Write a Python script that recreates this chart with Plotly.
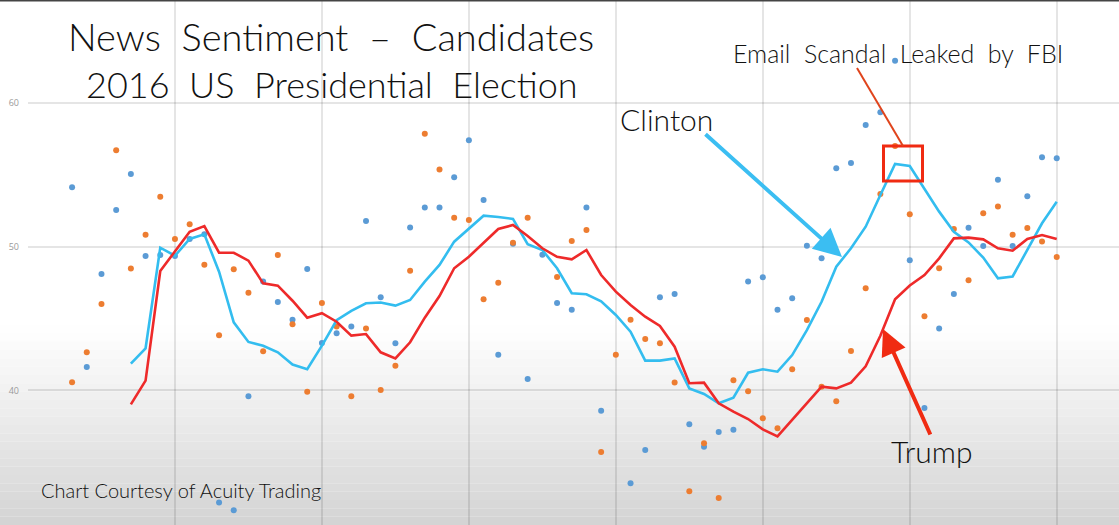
import plotly.graph_objects as go

# ---------------- data ----------------
days = list(range(3, 71))  # observation index

clinton_scores = [54.13, 41.63, 48.10, 52.55, 55.06, 49.35, 49.42, 49.35, 50.54, 50.86,
                  32.20, 31.66, 39.60, 47.58, 46.16, 44.92, 48.44, 43.29, 43.97, 44.45,
                  51.79, 46.48, 43.28, 51.33, 52.72, 52.72, 54.83, 57.40, 53.25, 42.48,
                  50.20, 40.79, 49.44, 46.08, 45.62, 52.72, 38.59, None, 33.53, 35.86,
                  46.48, 46.71, 37.65, 36.08, 37.10, 37.27, 47.57, 47.87, 45.62, 46.41,
                  50.07, 49.19, 55.46, 55.83, 58.47, 59.35, 62.94, 49.05, 38.78, 44.30,
                  46.71, 51.32, 50.05, 54.66, 50.05, 53.51, 56.22, 56.15]

trump_scores = [40.56, 42.65, 46.01, 56.71, 48.49, 50.84, 53.48, 50.54, 51.56, 48.74,
                43.83, 48.43, 46.79, 42.73, 49.42, 44.61, 39.90, 46.08, 44.45, 39.60,
                44.30, 40.02, 41.72, 48.33, 57.86, 55.38, 52.02, 51.86, 46.34, 47.49,
                50.28, 52.02, None, 47.90, 50.40, 51.16, 35.71, 42.48, 44.91, 43.58,
                43.28, 40.55, 32.98, 36.32, 32.51, 40.70, 39.94, 38.06, 37.36, 41.47,
                44.90, 40.26, 39.24, 42.74, 47.10, 53.67, 57.01, 52.25, 45.16, 48.50,
                51.23, 47.66, 52.32, 52.79, 50.84, 51.30, 50.37, 49.28]

avg_days = list(range(7, 71))

clinton_avg = [41.86, 42.93, 49.93, 49.37, 50.54, 50.86, 48.26, 44.74, 43.37, 43.10,
               42.65, 41.80, 41.48, 43.12, 44.88, 45.54, 46.06, 46.12, 45.90, 46.29,
               47.57, 48.73, 50.35, 51.23, 52.16, 52.07, 51.93, 50.17, 49.77, 48.50,
               46.76, 46.69, 46.20, 45.25, 44.09, 42.07, 42.07, 42.23, 40.14, 39.75,
               39.10, 39.49, 41.23, 41.47, 41.30, 42.46, 44.20, 46.17, 48.61, 49.89,
               51.39, 53.60, 55.76, 55.62, 54.06, 52.44, 51.04, 50.30, 49.24, 47.80,
               47.93, 49.77, 51.63, 53.13]

trump_avg = [39.03, 40.68, 48.31, 49.65, 51.04, 51.44, 49.58, 49.58, 49.03, 47.45,
             47.29, 46.24, 45.06, 45.37, 44.78, 43.81, 43.92, 42.65, 42.23, 43.35,
             45.06, 46.57, 48.50, 49.30, 50.23, 51.23, 51.51, 50.74, 49.89, 49.30,
             49.12, 49.77, 48.03, 46.87, 45.94, 45.13, 44.48, 43.04, 40.50, 40.54,
             39.10, 38.52, 38.01, 37.29, 36.80, 37.96, 39.15, 40.26, 40.14, 40.54,
             41.68, 43.80, 46.34, 47.30, 48.03, 49.19, 50.58, 50.63, 50.51, 49.89,
             49.72, 50.54, 50.81, 50.54]

y_ticks = [40, 50, 60]
x_grid = [0, 10, 20, 30, 40, 50, 60, 70]

# ---------------- layout helpers ----------------
W, H = 1119, 525
ML = 28
X_PER_PX = 1 / 14.696
Y0_PX, Y_PER_PX = 246.7, 1 / 14.37  # pixel row of value 50


def px2x(px):
    return (px - ML) * X_PER_PX


def px2y(py):
    return 50 + (Y0_PX - py) * Y_PER_PX


def wide(s, n):
    """widen word gaps the way the original lettering does"""
    return s.replace(" ", "\u00a0" * n + " ")


FONT = "Lato, 'Open Sans', sans-serif"

fig = go.Figure()

fig.add_trace(go.Scatter(x=days, y=clinton_scores, mode="markers", name="Clinton daily",
                         marker=dict(color="#5B9BD5", size=6), showlegend=False))
fig.add_trace(go.Scatter(x=days, y=trump_scores, mode="markers", name="Trump daily",
                         marker=dict(color="#ED7D31", size=6), showlegend=False))
fig.add_trace(go.Scatter(x=avg_days, y=clinton_avg, mode="lines", name="Clinton",
                         line=dict(color="#33BDEF", width=2.6), showlegend=False))
fig.add_trace(go.Scatter(x=avg_days, y=trump_avg, mode="lines", name="Trump",
                         line=dict(color="#EE2A2A", width=2.6), showlegend=False))

shapes = []
# background gradient (bottom vignette)
n = 24
top_px, bot_px = 325, 525
for i in range(n):
    a = top_px + (bot_px - top_px) * i / n
    b = top_px + (bot_px - top_px) * (i + 1) / n
    t = (i + 0.5) / n
    g = int(round(255 - 44 * t ** 1.05))
    shapes.append(dict(type="rect", xref="paper", yref="paper", layer="below",
                       x0=-0.03, x1=1.0, y0=1 - b / H, y1=1 - a / H,
                       fillcolor=f"rgb({g},{g},{g})", line=dict(width=0)))
# top dark border
shapes.append(dict(type="line", xref="paper", yref="paper", x0=-0.03, x1=1, y0=0.999, y1=0.999,
                   line=dict(color="#444444", width=2)))
# red box around the peak
shapes.append(dict(type="rect", xref="x", yref="y",
                   x0=px2x(883.5), x1=px2x(922.5), y0=px2y(181), y1=px2y(146),
                   line=dict(color="#F02B12", width=3)))
# line from the email label
shapes.append(dict(type="line", xref="x", yref="y",
                   x0=px2x(857), y0=px2y(68), x1=px2x(903), y1=px2y(146),
                   line=dict(color="#E0441C", width=2)))

TXT = "#111111"
annotations = [
    dict(text=wide("News Sentiment – Candidates", 1), x=px2x(331), y=px2y(60.5),
         yanchor="bottom", showarrow=False, borderpad=0,
         font=dict(family=FONT, size=38, color=TXT, weight=300)),
    dict(text=wide("2016 US Presidential Election", 1), x=px2x(332), y=px2y(60.5),
         yanchor="top", showarrow=False, borderpad=0,
         font=dict(family=FONT, size=36, color=TXT, weight=300)),
    dict(text=wide("Email Scandal Leaked by FBI", 1), x=px2x(898), y=px2y(53), showarrow=False,
         font=dict(family=FONT, size=25, color=TXT, weight=300)),
    dict(text="Clinton", x=px2x(666), y=px2y(118.5), showarrow=False,
         font=dict(family=FONT, size=30, color=TXT, weight=300)),
    dict(text="Trump", x=px2x(932), y=px2y(451), showarrow=False,
         font=dict(family=FONT, size=30, color=TXT, weight=300)),
    dict(text="Chart Courtesy of Acuity Trading", x=px2x(181), y=px2y(490), showarrow=False,
         font=dict(family=FONT, size=20, color=TXT, weight=300)),
    # arrows
    dict(text="", x=px2x(842), y=px2y(257), ax=px2x(704), ay=px2y(133),
         xref="x", yref="y", axref="x", ayref="y", showarrow=True,
         arrowhead=2, arrowwidth=4, arrowsize=1.4, arrowcolor="#3BBEF2"),
    dict(text="", x=px2x(883), y=px2y(329), ax=px2x(931), ay=px2y(436),
         xref="x", yref="y", axref="x", ayref="y", showarrow=True,
         arrowhead=2, arrowwidth=4, arrowsize=1.3, arrowcolor="#F02B12"),
]

fig.update_layout(
    width=W, height=H,
    margin=dict(l=ML, r=0, t=0, b=0, pad=0),
    paper_bgcolor="white", plot_bgcolor="rgba(0,0,0,0)",
    shapes=shapes, annotations=annotations,
    xaxis=dict(range=[px2x(ML), px2x(W)], tickvals=x_grid, showticklabels=False,
               showgrid=True, gridcolor="rgba(0,0,0,0.10)", gridwidth=2, zeroline=False,
               showline=False, ticks=""),
    yaxis=dict(range=[px2y(H), px2y(0)], tickvals=y_ticks, showgrid=True,
               gridcolor="rgba(0,0,0,0.10)", gridwidth=2, zeroline=False, showline=False,
               ticks="", ticklabelstandoff=8,
               tickfont=dict(family="Open Sans, sans-serif", size=9, color="#9a9a9a")),
)

fig.write_html("out.html")
